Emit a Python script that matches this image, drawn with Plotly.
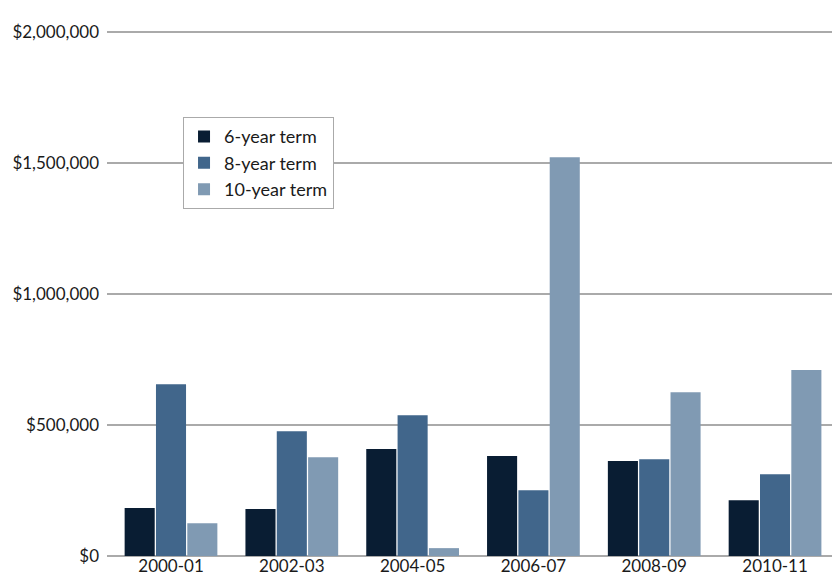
import plotly.graph_objects as go

categories = ["2000-01", "2002-03", "2004-05", "2006-07", "2008-09", "2010-11"]
six_year = [183000, 179000, 408000, 381000, 362000, 213000]
eight_year = [655000, 476000, 537000, 251000, 369000, 312000]
ten_year = [125000, 377000, 30000, 1521000, 625000, 709000]
y_ticks = [0, 500000, 1000000, 1500000, 2000000]
y_labels = ["$0", "$500,000", "$1,000,000", "$1,500,000", "$2,000,000"]

colors = ["#091d33", "#41668b", "#809ab3"]
names = ["6-year term", "8-year term", "10-year term"]
series = [six_year, eight_year, ten_year]

fig = go.Figure()
for n, s, c in zip(names, series, colors):
    fig.add_trace(go.Bar(x=categories, y=s, name=n, marker=dict(color=c, line=dict(width=0))))

font = "Lato, 'Open Sans', sans-serif"
# page body has an 8px margin, so the figure is offset by 8px
fig.update_layout(
    width=840, height=575,
    margin=dict(l=99, r=0, t=21, b=27, autoexpand=False),
    paper_bgcolor="white", plot_bgcolor="white",
    barmode="group", bargap=0.222, bargroupgap=0.04,
    font=dict(family=font, size=17, color="#1a1a1a"),
    showlegend=True,
    legend=dict(x=0.1026, y=0.8326, xanchor="left", yanchor="top",
                bgcolor="white", bordercolor="#aaaaaa", borderwidth=1,
                font=dict(size=18, family=font, color="#1a1a1a")),
    xaxis=dict(type="category", range=[-0.5298, 5.604], showgrid=False, ticks="",
               showline=False, zeroline=False, tickfont=dict(size=17),
               automargin=False, ticklabelstandoff=-2),
    yaxis=dict(range=[0, 2010000], tickvals=y_ticks, ticktext=y_labels,
               showgrid=True, gridcolor="#aaaaaa", gridwidth=1.5,
               zeroline=True, zerolinecolor="#aaaaaa", zerolinewidth=1.5,
               showline=False, ticks="", ticklabelstandoff=7,
               tickfont=dict(size=17), automargin=False),
)

fig.write_html("out.html")
